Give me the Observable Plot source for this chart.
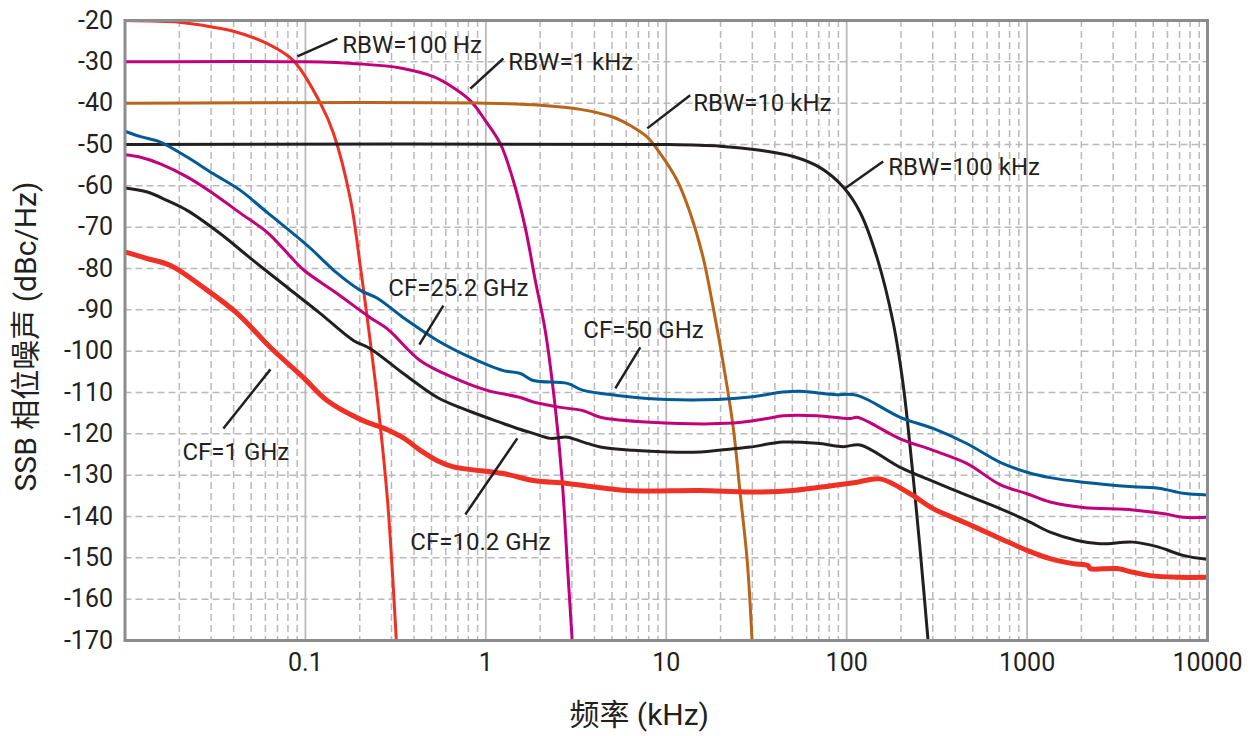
<!DOCTYPE html>
<html><head><meta charset="utf-8">
<script src="https://cdn.jsdelivr.net/npm/d3@7"></script>
<script src="https://cdn.jsdelivr.net/npm/@observablehq/plot@0.6"></script>
<style>body{margin:0;background:#fff;}</style>
</head><body><div id="chart"></div>
<script>
const FONT = 'Roboto,"Noto Sans CJK SC",sans-serif';

// Tick labels
const xTicks = [0.1, 1, 10, 100, 1000, 10000];
const yTicks = [-20,-30,-40,-50,-60,-70,-80,-90,-100,-110,-120,-130,-140,-150,-160,-170];
const decades = [0.01, 0.1, 1, 10, 100, 1000, 10000];
const minorX = [];
for (const d of [0.01, 0.1, 1, 10, 100, 1000]) for (let k = 2; k <= 9; k++) minorX.push(+(d * k).toPrecision(3));

// RBW filter curves [kHz, dBc/Hz]
const rbw100Hz = [[0.01,-20],[0.02,-20.4],[0.0262,-21.1],[0.0399,-22.6],[0.0616,-25.6],[0.0858,-29.7],[0.121,-40],[0.143,-47.3],[0.178,-63.5],[0.202,-79.8],[0.220,-91.9],[0.251,-112],[0.285,-136],[0.319,-170]];
const rbw1kHz = [[0.01,-30],[0.1,-30],[0.2,-30.5],[0.336,-31.5],[0.512,-33.6],[0.636,-35.8],[0.82,-39.4],[0.994,-44.2],[1.203,-49.8],[1.419,-58.7],[1.654,-70.1],[1.88,-82.9],[2.134,-95],[2.425,-113.6],[2.65,-131.3],[2.83,-151.4],[3.01,-170]];
const rbw10kHz = [[0.01,-40],[1,-40],[2,-40.5],[3.34,-41.5],[5.09,-43.4],[6.32,-45.4],[7.85,-48.2],[9.27,-52.2],[11.5,-58.7],[13.6,-66.7],[16,-77.3],[18.2,-89.4],[20.7,-103],[23.5,-118.4],[25.7,-134.5],[28.1,-150.7],[29.9,-170]];
const rbw100kHz = [[0.01,-50],[10,-50],[19.9,-50.4],[33.2,-51.4],[50.6,-52.9],[71.3,-55.6],[95.7,-60.3],[119,-66.5],[147.6,-77.5],[180.9,-93],[205.5,-108],[230.6,-128],[255.3,-148],[282.6,-170]];

// Phase noise curves [kHz, dBc/Hz]
const cf50 = [[0.01,-46.8],[0.0122,-48.1],[0.0157,-49.4],[0.0222,-53.1],[0.0309,-57.1],[0.0436,-61.1],[0.0616,-66.5],[0.0858,-71.6],[0.1066,-75.1],[0.1504,-81.2],[0.2017,-85.3],[0.2505,-87.2],[0.349,-91.9],[0.539,-97.4],[0.821,-101.5],[1.25,-104.7],[1.553,-105.4],[1.833,-107.1],[2.828,-107.8],[3.469,-109.5],[5.352,-110.7],[10.13,-111.7],[19.17,-111.7],[29.2,-111.1],[44.5,-109.9],[55.3,-109.7],[84.2,-110.5],[114.3,-110.7],[197.9,-116],[301.5,-118.7],[465.2,-122.4],[708.8,-126.9],[1000,-129.3],[1341,-130.6],[2043,-131.7],[3868,-132.8],[5456,-133.2],[7317,-134.4],[10000,-134.8]];
const cf25 = [[0.01,-52.5],[0.0122,-53.1],[0.0157,-54.7],[0.0222,-57.9],[0.0309,-61.9],[0.0436,-66.6],[0.0616,-71.3],[0.0795,-76.3],[0.0975,-80.3],[0.1504,-86.1],[0.229,-91.9],[0.2847,-94.6],[0.4337,-102.3],[0.6606,-106.4],[1.019,-109.5],[1.553,-111.2],[1.833,-112.3],[2.587,-113.6],[3.469,-114.4],[4.31,-116],[8.155,-117.2],[23.5,-117.4],[36.27,-116.3],[44.5,-115.6],[68.65,-115.6],[104.5,-116.3],[114.3,-116],[197.9,-121.2],[301.5,-124],[465.2,-127.2],[708.8,-132.3],[1000,-134.5],[1341,-136.5],[2043,-137.8],[3868,-138.4],[5891,-139.4],[7317,-140.2],[10000,-140.2]];
const cf10 = [[0.01,-60.5],[0.0133,-61.5],[0.0172,-63.6],[0.0222,-66],[0.0338,-71.6],[0.0515,-78.1],[0.0795,-84.6],[0.1211,-90.9],[0.1845,-97.4],[0.229,-99.4],[0.349,-105.4],[0.539,-111.2],[0.821,-114.6],[1.25,-117.5],[1.494,-118.7],[1.833,-119.9],[2.277,-121.1],[2.828,-120.8],[3.469,-122],[4.31,-123.2],[6.565,-124],[10.13,-124.4],[15.43,-124.4],[23.5,-123.6],[29.2,-123.2],[44.5,-122],[68.65,-122.3],[95.6,-123.1],[118.8,-122.7],[197.9,-128.1],[301.5,-131.5],[465.2,-134.9],[708.8,-138.1],[1000,-141],[1341,-143.8],[1892,-145.8],[2537,-146.6],[3868,-146.2],[5252,-147.3],[7317,-149.4],[9686,-150.3],[10000,-150.3]];
const cf1 = [[0.01,-76],[0.0133,-77.6],[0.0179,-79.3],[0.0272,-84.6],[0.042,-90.9],[0.064,-99.1],[0.0975,-106.4],[0.1324,-112],[0.2017,-116.5],[0.2847,-119],[0.349,-121],[0.4337,-124],[0.539,-126.5],[0.6606,-128],[1.25,-129.6],[1.833,-131.3],[2.828,-132],[6.08,-133.7],[15.43,-133.7],[29.2,-134.1],[50.5,-133.7],[84.2,-132.5],[114.3,-131.7],[153.3,-130.9],[224.8,-134.5],[301.5,-138.1],[465.2,-141.7],[708.8,-145.3],[1000,-148.2],[1341,-150.2],[1798,-151.4],[2178,-151.9],[2233,-152.6],[3152,-152.6],[3868,-153.5],[4803,-154.3],[6776,-154.7],[10000,-154.7]];

const seriesNames = ["RBW=100 Hz","RBW=1 kHz","RBW=10 kHz","RBW=100 kHz","CF=50 GHz","CF=25.2 GHz","CF=10.2 GHz","CF=1 GHz"];
const seriesData = [rbw100Hz, rbw1kHz, rbw10kHz, rbw100kHz, cf50, cf25, cf10, cf1];
const seriesColors = ["#ee3124","#c2007b","#b8651b","#231f20","#005a94","#c2007b","#231f20","#ee3124"];
const seriesWidths = [3, 3, 3, 3, 3, 3, 3, 5];

// Annotations: label text, text position, leader line ends
const labelText = ["RBW=100 Hz","RBW=1 kHz","RBW=10 kHz","RBW=100 kHz","CF=25.2 GHz","CF=50 GHz","CF=1 GHz","CF=10.2 GHz"];
const labelX = [0.160, 1.333, 14.1, 169.8, 0.288, 3.47, 0.0208, 0.3817];
const labelY = [-26.0, -30.2, -40.1, -55.6, -84.8, -95, -124.5, -146.3];
const leadX1 = [0.0903, 0.821, 7.85, 98.1, 0.428, 5.22, 0.0351, 0.770];
const leadY1 = [-28.7, -36.5, -46.1, -60.6, -98.4, -109, -118.7, -139.5];
const leadX2 = [0.1504, 1.25, 13.58, 159.3, 0.5815, 7.18, 0.064, 1.494];
const leadY2 = [-24.4, -29.2, -38.1, -54.1, -89, -99.1, -104.4, -121.1];

const rows = [];
seriesData.forEach((arr, i) => arr.forEach(([f, v]) => rows.push({series: seriesNames[i], idx: i, f, v})));
const labels = labelText.map((t, i) => ({t, x: labelX[i], y: labelY[i], x1: leadX1[i], y1: leadY1[i], x2: leadX2[i], y2: leadY2[i]}));

const lineMarks = seriesData.map((arr, i) => Plot.line(rows.filter(r => r.idx === i), {
  x: "f", y: "v", stroke: seriesColors[i], strokeWidth: seriesWidths[i], curve: "catmull-rom", clip: true, strokeLinejoin: "round"
}));

const chart = Plot.plot({
  width: 1258, height: 736,
  marginTop: 20, marginBottom: 96, marginLeft: 124.5, marginRight: 51,
  style: {fontFamily: FONT, fontSize: "24px", color: "#231f20", background: "#fff"},
  x: {type: "log", domain: [0.01, 10000]},
  y: {domain: [-170, -20]},
  marks: [
    Plot.ruleX(minorX, {stroke: "#b9b9bc", strokeWidth: 1.5, strokeDasharray: "7,4"}),
    Plot.ruleY(yTicks, {stroke: "#b9b9bc", strokeWidth: 1.5, strokeDasharray: "7,4"}),
    Plot.ruleX(decades, {stroke: "#b9b9bc", strokeWidth: 1.8}),
    ...lineMarks,
    Plot.link(labels, {x1: "x1", y1: "y1", x2: "x2", y2: "y2", stroke: "#231f20", strokeWidth: 2.5}),
    Plot.text(labels, {x: "x", y: "y", text: "t", textAnchor: "start", fontSize: 24, fill: "#231f20"}),
    Plot.frame({stroke: "#8c8c8f", strokeWidth: 3}),
    Plot.axisX(xTicks, {tickSize: 0, tickPadding: 13, tickFormat: d => String(d), label: null, fontSize: 25}),
    Plot.axisY(yTicks, {tickSize: 0, tickPadding: 12, tickFormat: d => String(d), label: null, fontSize: 25}),
    Plot.text(["频率 (kHz)"], {frameAnchor: "bottom", textAnchor: "middle", dx: -27, dy: 75, fontSize: 30, lineAnchor: "middle"}),
    Plot.text(["SSB 相位噪声 (dBc/Hz)"], {frameAnchor: "left", textAnchor: "middle", rotate: -90, dx: -99, dy: 6, fontSize: 30, lineAnchor: "middle"})
  ]
});
document.getElementById("chart").appendChild(chart);
</script>
</body></html>
